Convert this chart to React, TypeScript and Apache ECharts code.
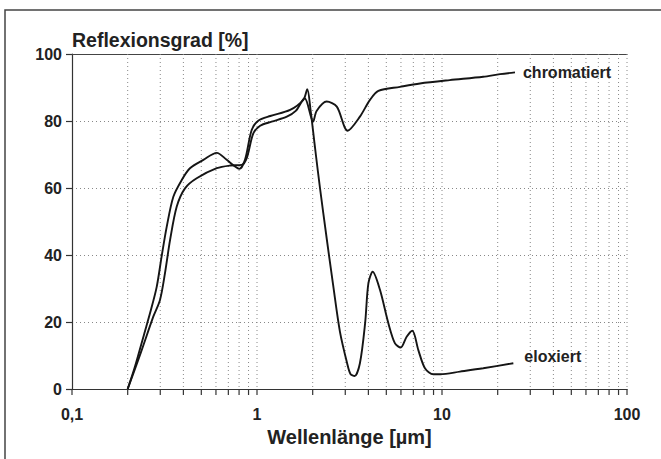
import React, { useEffect, useRef } from "react";
import * as echarts from "echarts";

// Wavelength (µm) and reflectance (%)
const chromX = [0.2, 0.235, 0.275, 0.299, 0.318, 0.339, 0.368, 0.408, 0.472, 0.606, 0.715, 0.827, 0.88, 0.955, 1.04, 1.2, 1.45, 1.62, 1.81, 2.01, 2.1, 2.38, 2.7, 3.09, 3.6, 4.08, 4.53, 5.93, 7.6, 11, 16.7, 20.6, 24.8];
const chromY = [0, 10.7, 21.6, 26.6, 34.5, 44.5, 54.4, 59.9, 62.9, 65.9, 66.7, 66.9, 68.9, 76.3, 78.6, 79.8, 81.3, 83, 86.8, 79.8, 83, 85.8, 84.3, 77.1, 81.3, 86.3, 89.0, 90.2, 91.2, 92.2, 93.2, 94.0, 94.5];

const eloxX = [0.2, 0.219, 0.246, 0.264, 0.287, 0.305, 0.325, 0.353, 0.392, 0.434, 0.513, 0.606, 0.686, 0.761, 0.802, 0.861, 0.936, 1.016, 1.18, 1.51, 1.78, 1.87, 1.95, 2.01, 2.08, 2.19, 2.38, 2.58, 2.81, 3.07, 3.2, 3.37, 3.6, 3.84, 4.0, 4.22, 4.62, 5.13, 5.57, 5.98, 6.44, 6.91, 7.45, 8.09, 8.98, 9.8, 12.5, 16.7, 24.3];
const eloxY = [0, 6.7, 16.6, 22.6, 30.5, 39.5, 48.4, 57.4, 62.4, 65.9, 68.4, 70.5, 68.4, 66.4, 65.7, 68.4, 77.3, 80.1, 81.5, 83.3, 86.3, 89.5, 83, 77, 70, 60, 45, 31, 17, 7.7, 4.5, 3.9, 7.7, 19.6, 31.5, 35, 29.6, 19.6, 13.6, 12.4, 15.6, 17.4, 11.6, 6.2, 4.4, 4.4, 5.2, 6.2, 7.7];

const seriesNames = ["chromatiert", "eloxiert"];
const titleText = "Reflexionsgrad [%]";
const xAxisName = "Wellenlänge [µm]";
const decades = [0.1, 1, 10];
const multipliers = [1, 2, 3, 4, 5, 6, 7, 8, 9];

const FONT = '"Liberation Sans", Arial, Helvetica, sans-serif';

export default function App() {
  const ref = useRef<HTMLDivElement>(null);
  useEffect(() => {
    if (!ref.current) return;
    const chart = echarts.init(ref.current, undefined, { renderer: "svg" });
    const xTicks: number[] = [];
    decades.forEach((d) => multipliers.forEach((m) => xTicks.push(+(d * m).toPrecision(3))));
    xTicks.push(100);

    const zip = (xs: number[], ys: number[]) => xs.map((x, i) => [x, ys[i]]);
    const lineSeries = (name: string, data: number[][], offset: number[]) => ({
      name,
      type: "line",
      data,
      showSymbol: false,
      smooth: 0.3,
      z: 5,
      lineStyle: { color: "#151515", width: 1.9 },
      endLabel: {
        show: true,
        formatter: name,
        offset,
        fontFamily: FONT,
        fontWeight: "bold",
        fontSize: 16,
        color: "#222",
      },
    });

    chart.setOption({
      animation: false,
      backgroundColor: "#ffffff",
      title: {
        text: titleText,
        left: 72,
        top: 30,
        padding: 0,
        textStyle: { fontFamily: FONT, fontWeight: "bold", fontSize: 19.5, color: "#222" },
      },
      grid: { left: 72, top: 54, width: 555, height: 335 },
      xAxis: [
        {
          type: "log",
          logBase: 10,
          min: 0.1,
          max: 100,
          name: xAxisName,
          nameLocation: "middle",
          nameGap: 37,
          nameTextStyle: { fontFamily: FONT, fontWeight: "bold", fontSize: 20, color: "#222" },
          axisLine: { show: true, lineStyle: { color: "#333", width: 1.2 } },
          axisTick: { show: false },
          splitLine: { show: false },
          axisLabel: {
            margin: 17,
            fontFamily: FONT,
            fontWeight: "bold",
            fontSize: 16,
            color: "#222",
            formatter: (v: number) => (v < 0.5 ? "0,1" : String(Math.round(v))),
          },
        },
        {
          type: "log",
          logBase: 10,
          min: 0.1,
          max: 100,
          position: "top",
          axisLine: { show: true, lineStyle: { color: "#444", width: 1.2 } },
          axisTick: { show: false },
          axisLabel: { show: false },
          splitLine: { show: false },
        },
      ],
      yAxis: {
        type: "value",
        min: 0,
        max: 100,
        interval: 20,
        axisLine: { show: true, lineStyle: { color: "#333", width: 1.2 } },
        axisTick: { show: true, length: 6, lineStyle: { color: "#333", width: 1.2 } },
        splitLine: { show: true, lineStyle: { color: "#888", width: 1, type: [1, 3] } },
        axisLabel: { margin: 10, fontFamily: FONT, fontWeight: "bold", fontSize: 16, color: "#222" },
      },
      graphic: [
        {
          type: "rect",
          shape: { x: 5, y: 10, width: 700, height: 500 },
          style: { fill: "none", stroke: "#444", lineWidth: 1.5 },
          silent: true,
        },
      ],
      series: [
        {
          type: "custom",
          name: "grid",
          data: xTicks.map((v) => [v, 0]),
          encode: { x: 0, y: 1 },
          z: 1,
          silent: true,
          renderItem: (_p: any, api: any) => {
            const v = api.value(0);
            const top = api.coord([v, 100]);
            const bot = api.coord([v, 0]);
            const children: any[] = [];
            if (v > 0.11) {
              children.push({
                type: "line",
                shape: { x1: top[0], y1: top[1], x2: bot[0], y2: bot[1] },
                style: { stroke: "#888", lineWidth: 1, lineDash: [1, 3] },
              });
            }
            children.push({
              type: "line",
              shape: { x1: bot[0], y1: bot[1], x2: bot[0], y2: bot[1] + 6 },
              style: { stroke: "#333", lineWidth: 1.2 },
            });
            return { type: "group", children };
          },
        },
        lineSeries(seriesNames[0], zip(chromX, chromY), [0, 0]),
        lineSeries(seriesNames[1], zip(eloxX, eloxY), [3, -7]),
      ],
    });
    return () => chart.dispose();
  }, []);
  return (
    <div
      ref={ref}
      style={{ position: "fixed", left: 0, top: 0, width: 661, height: 459 }}
    />
  );
}
